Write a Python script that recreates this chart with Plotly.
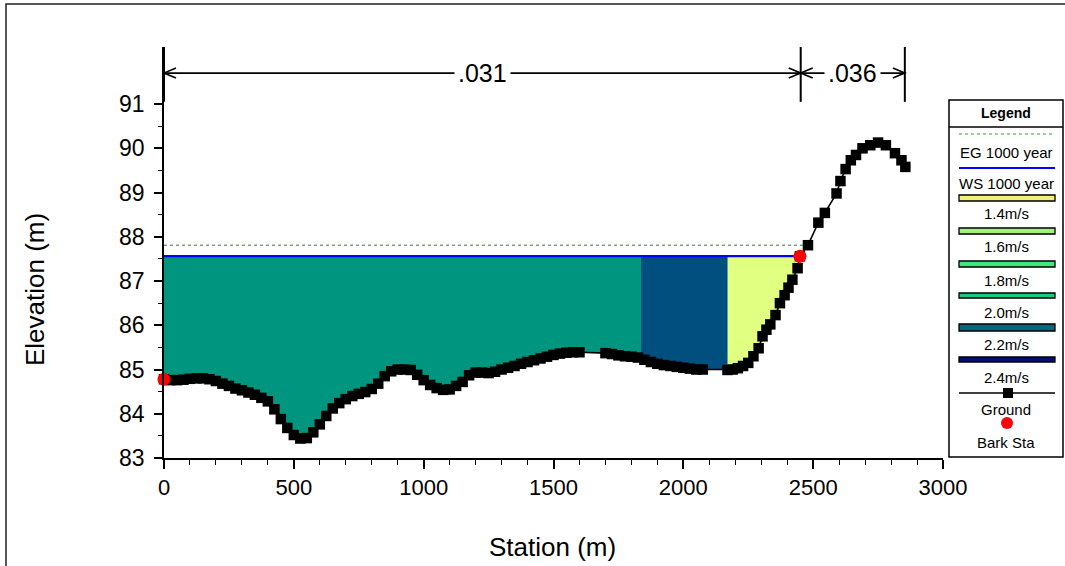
import numpy as np
import plotly.graph_objects as go

# ---- Cross-section ground profile (station m, elevation m) ----
ground_sta = [0, 25, 50, 75, 100, 125, 150, 175, 200, 225, 250, 275, 300, 325, 350,
              375, 400, 425, 450, 475, 500, 525, 550, 575, 600, 625, 650, 675, 700,
              725, 750, 775, 800, 825, 850, 875, 900, 925, 950, 975, 1000, 1025, 1050,
              1075, 1100, 1125, 1150, 1175, 1200, 1225, 1250, 1275, 1300, 1325, 1350,
              1375, 1400, 1425, 1450, 1475, 1500, 1525, 1550, 1575, 1600, 1700, 1725,
              1750, 1775, 1800, 1825, 1850, 1875, 1900, 1925, 1950, 1975, 2000, 2025,
              2050, 2075, 2170, 2190, 2210, 2230, 2250, 2270, 2290, 2305, 2320, 2335,
              2355, 2372, 2390, 2405, 2420, 2440, 2449, 2480, 2520, 2545, 2590, 2605,
              2625, 2645, 2665, 2690, 2720, 2750, 2780, 2815, 2840, 2855]
ground_elev = [84.78, 84.76, 84.76, 84.77, 84.79, 84.80, 84.80, 84.78, 84.74, 84.68,
               84.63, 84.57, 84.53, 84.48, 84.43, 84.36, 84.28, 84.10, 83.88, 83.68,
               83.52, 83.44, 83.45, 83.58, 83.76, 83.95, 84.12, 84.24, 84.33, 84.40,
               84.45, 84.49, 84.56, 84.68, 84.85, 84.96, 85.00, 85.00, 84.99, 84.88,
               84.76, 84.65, 84.58, 84.54, 84.55, 84.63, 84.72, 84.87, 84.93, 84.93,
               84.92, 84.95, 85.00, 85.04, 85.08, 85.13, 85.17, 85.21, 85.25, 85.29,
               85.33, 85.36, 85.38, 85.39, 85.39, 85.37, 85.35, 85.32, 85.30, 85.29,
               85.27, 85.22, 85.17, 85.13, 85.10, 85.08, 85.06, 85.04, 85.02, 85.00,
               85.00, 84.99, 85.00, 85.03, 85.08, 85.15, 85.30, 85.48, 85.75, 85.90,
               86.02, 86.23, 86.50, 86.68, 86.85, 87.03, 87.29, 87.56, 87.81, 88.32,
               88.54, 88.98, 89.26, 89.53, 89.73, 89.85, 90.00, 90.07, 90.13, 90.07,
               89.89, 89.73, 89.58]

# Bank stations
bank_sta = [0, 2449]
bank_elev = [84.78, 87.56]

# Water surface and energy grade (1000 year event)
ws_elev = 87.565
eg_elev = 87.81
eg_end_sta = 2480

# Velocity bands across the wetted section: (left sta, right sta, colour)
band_edges = [0, 1837, 2171, 2449]
band_colors = ["#00957F", "#004F7F", "#E1FF80"]

# Manning's n regions
n_edges = [0, 2452, 2853]
n_labels = [".031", ".036"]

# Legend entries for velocity colours
vel_labels = ["1.4m/s", "1.6m/s", "1.8m/s", "2.0m/s", "2.2m/s", "2.4m/s"]
vel_colors = ["#F4EE7A", "#A6F07E", "#40E880", "#18CC82", "#006A78", "#000F78"]

# Axis ticks
x_ticks = [0, 500, 1000, 1500, 2000, 2500, 3000]
y_ticks = [83, 84, 85, 86, 87, 88, 89, 90, 91]

FONT = "Liberation Sans, Arial, sans-serif"
NARROW = "Liberation Sans Narrow, Arial Narrow, Liberation Sans, Arial, sans-serif"

# plot area in pixels
L, R, T, B = 164, 943, 47, 458
Y_TOP = 92.29
X_MAX = 3000


def pxx(px):
    return (px - L) / (R - L)


def pxy(py):
    return (B - py) / (B - T)


def label(px, py, text, size=15, family=NARROW, **kw):
    return dict(x=pxx(px), y=pxy(py), xref="paper", yref="paper", text=text,
                xanchor="center", yanchor="middle", showarrow=False,
                font=dict(family=family, size=size, color="black"), **kw)


gs = np.array(ground_sta, float)
ge = np.array(ground_elev, float)

fig = go.Figure()

# Velocity-coloured flow area
for (a, b), col in zip(zip(band_edges[:-1], band_edges[1:]), band_colors):
    inside = (gs > a) & (gs < b)
    bot_x = [b] + list(gs[inside][::-1]) + [a]
    bot_y = [float(np.interp(b, gs, ge))] + list(ge[inside][::-1]) + [float(np.interp(a, gs, ge))]
    xs = [a, b] + bot_x
    ys = [ws_elev, ws_elev] + bot_y
    fig.add_trace(go.Scatter(x=xs, y=ys, fill="toself", fillcolor=col, mode="none",
                             hoverinfo="skip"))

# Energy grade line
fig.add_trace(go.Scatter(x=[0, eg_end_sta], y=[eg_elev, eg_elev], mode="lines",
                         line=dict(color="#3F6F3F", width=1, dash="dot")))
# Water surface
fig.add_trace(go.Scatter(x=[0, bank_sta[1]], y=[ws_elev, ws_elev], mode="lines",
                         line=dict(color="#0000FF", width=2.2)))
# Ground
fig.add_trace(go.Scatter(x=ground_sta, y=ground_elev, mode="lines+markers",
                         line=dict(color="black", width=1.6), cliponaxis=False,
                         marker=dict(symbol="square", size=10.5, color="black")))
# Bank stations
fig.add_trace(go.Scatter(x=bank_sta, y=bank_elev, mode="markers", cliponaxis=False,
                         marker=dict(symbol="circle", size=13, color="#FF0000")))

shapes = []
annotations = []

# Manning's n brackets
y_line = 91.70
y_vtop, y_vbot = Y_TOP, 91.05
sx = 3.851   # metres per pixel
sy = 0.0226  # metres per pixel
ah_len, ah_half = 12 * sx, 5 * sy
for x in n_edges:
    shapes.append(dict(type="line", xref="x", yref="y", x0=x, x1=x, y0=y_vbot, y1=y_vtop,
                       line=dict(color="black", width=2)))
for (a, b), lab in zip(zip(n_edges[:-1], n_edges[1:]), n_labels):
    shapes.append(dict(type="line", xref="x", yref="y", x0=a, x1=b, y0=y_line, y1=y_line,
                       line=dict(color="black", width=1.6)))
    # open arrow heads at both ends
    shapes.append(dict(type="path", xref="x", yref="y",
                       path=f"M {a + ah_len},{y_line + ah_half} L {a},{y_line} L {a + ah_len},{y_line - ah_half}",
                       line=dict(color="black", width=1.6)))
    shapes.append(dict(type="path", xref="x", yref="y",
                       path=f"M {b - ah_len},{y_line + ah_half} L {b},{y_line} L {b - ah_len},{y_line - ah_half}",
                       line=dict(color="black", width=1.6)))
    annotations.append(dict(x=(a + b) / 2, y=y_line, xref="x", yref="y", text=lab,
                            xanchor="center", yanchor="middle",
                            showarrow=False, bgcolor="white", borderpad=3,
                            font=dict(family=FONT, size=25, color="black")))

# Outer frame
shapes.append(dict(type="rect", xref="paper", yref="paper", x0=pxx(6), x1=pxx(1075),
                   y0=pxy(575), y1=pxy(4), line=dict(color="#222222", width=1.5)))

# ---- Legend box ----
lx0, lx1, ly0, ly1 = 949, 1063, 100, 457
cx = (lx0 + lx1) / 2
sw0, sw1 = 959, 1055
shapes.append(dict(type="rect", xref="paper", yref="paper", x0=pxx(lx0), x1=pxx(lx1),
                   y0=pxy(ly1), y1=pxy(ly0), line=dict(color="black", width=1.5),
                   fillcolor="white", layer="below"))
shapes.append(dict(type="line", xref="paper", yref="paper", x0=pxx(lx0), x1=pxx(lx1),
                   y0=pxy(127), y1=pxy(127), line=dict(color="black", width=1.5)))
annotations.append(label(cx, 113, "<b>Legend</b>", size=14, family=FONT))
# EG
shapes.append(dict(type="line", xref="paper", yref="paper", x0=pxx(sw0), x1=pxx(sw1),
                   y0=pxy(134), y1=pxy(134), line=dict(color="#3A9A3A", width=1, dash="dot")))
annotations.append(label(cx, 152, "EG 1000 year"))
# WS
shapes.append(dict(type="line", xref="paper", yref="paper", x0=pxx(sw0), x1=pxx(sw1),
                   y0=pxy(168), y1=pxy(168), line=dict(color="#0000FF", width=2)))
annotations.append(label(cx, 183, "WS 1000 year"))
# velocity swatches
sw_top = [195, 228, 261, 293, 324, 357]
sw_h = [6, 6, 6, 5, 7, 5]
lab_y = [214, 247, 280, 312, 344, 377]
for lab, col, t, h, ty in zip(vel_labels, vel_colors, sw_top, sw_h, lab_y):
    shapes.append(dict(type="rect", xref="paper", yref="paper", x0=pxx(sw0), x1=pxx(sw1),
                       y0=pxy(t + h), y1=pxy(t), fillcolor=col,
                       line=dict(color="black", width=1.3)))
    annotations.append(label(cx, ty, lab))
# Ground
shapes.append(dict(type="line", xref="paper", yref="paper", x0=pxx(sw0), x1=pxx(sw1),
                   y0=pxy(393), y1=pxy(393), line=dict(color="black", width=1.3)))
shapes.append(dict(type="rect", xref="paper", yref="paper", x0=pxx(1003), x1=pxx(1013),
                   y0=pxy(398), y1=pxy(388), fillcolor="black", line=dict(width=0)))
annotations.append(label(cx, 409, "Ground"))
# Bank Sta
shapes.append(dict(type="circle", xref="paper", yref="paper", x0=pxx(1001), x1=pxx(1013),
                   y0=pxy(429), y1=pxy(417), fillcolor="#FF0000", line=dict(width=0)))
annotations.append(label(cx, 442, "Bark Sta"))

# Axis titles
annotations.append(label(35, 290, "Elevation (m)", size=26, family=FONT, textangle=-90))
annotations.append(label(552, 547, "Station (m)", size=26, family=FONT))

fig.update_layout(
    width=1065, height=566,
    margin=dict(l=L, r=1065 - R, t=T, b=566 - B),
    paper_bgcolor="white", plot_bgcolor="white",
    showlegend=False,
    shapes=shapes, annotations=annotations,
    xaxis=dict(range=[0, X_MAX], tickmode="array", tickvals=x_ticks,
               ticks="outside", ticklen=9, tickwidth=1.5, tickcolor="black",
               showline=True, linecolor="black", linewidth=1.5, showgrid=False, zeroline=False,
               tickfont=dict(family=FONT, size=22, color="black"),
               minor=dict(tickvals=list(range(0, 3001, 100)), ticks="outside", ticklen=5,
                          tickwidth=1.2, tickcolor="black", showgrid=False)),
    yaxis=dict(range=[83, Y_TOP], tickmode="array", tickvals=y_ticks,
               ticks="outside", ticklen=8, tickwidth=1.5, tickcolor="black",
               ticklabelstandoff=5,
               showline=True, linecolor="black", linewidth=1.5, showgrid=False, zeroline=False,
               tickfont=dict(family=FONT, size=23, color="black"),
               minor=dict(tickvals=[v + 0.5 for v in y_ticks[:-1]], ticks="outside", ticklen=4,
                          tickwidth=1.2, tickcolor="black", showgrid=False)),
)

fig.write_html("out.html")
